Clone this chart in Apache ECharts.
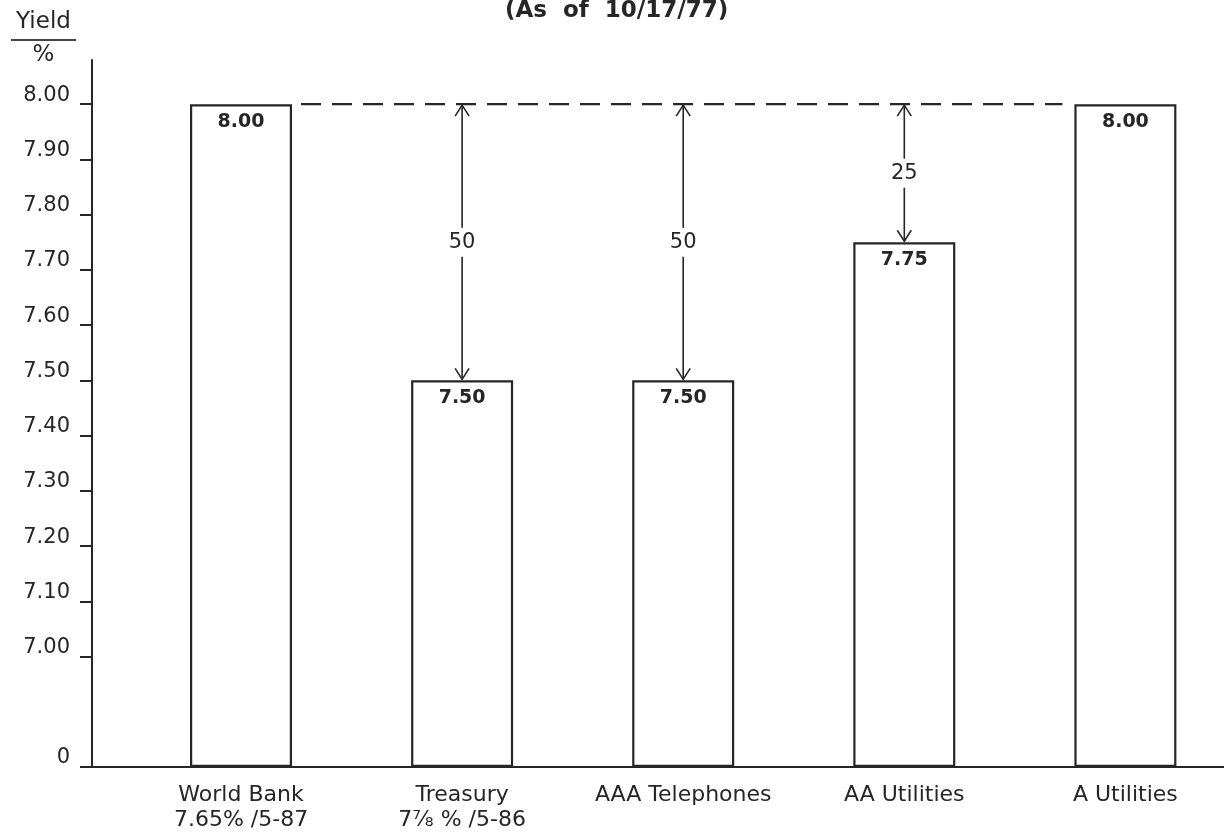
<!DOCTYPE html>
<html>
<head>
<meta charset="utf-8">
<script src="https://cdn.jsdelivr.net/npm/echarts@6/dist/echarts.min.js"></script>
<style>
  html, body { margin: 0; padding: 0; background: #ffffff; }
  #chart { width: 1224px; height: 836px; }
</style>
</head>
<body>
<div id="chart"></div>
<script>
// ---- data ----
const categories = ['World Bank\n7.65% /5-87', 'Treasury\n7\u215E % /5-86', 'AAA Telephones', 'AA Utilities', 'A Utilities'];
const yields = [8.00, 7.50, 7.50, 7.75, 8.00];
const benchmark = 8.00;
const spreadCategories = [1, 2, 3];
const tickValues = [0, 7.00, 7.10, 7.20, 7.30, 7.40, 7.50, 7.60, 7.70, 7.80, 7.90, 8.00];
const tickLabels = ['0', '7.00', '7.10', '7.20', '7.30', '7.40', '7.50', '7.60', '7.70', '7.80', '7.90', '8.00'];

// broken axis: 0 sits two steps below 7.00
function toAxis(v) {
  if (v === 0) return 0;
  return Math.round(((v - 7) * 10 + 2) * 1000) / 1000;
}
const tickAxis = tickValues.map(toAxis);

const FONT = 'DejaVu Sans';
const INK = '#262626';
const BAR_W = 102;

const barData = yields.map((v, i) => [i, toAxis(v)]);
const arrowData = spreadCategories.map(i => [i, toAxis(benchmark), toAxis(yields[i]), ((benchmark - yields[i]) * 100).toFixed(0)]);
const dashData = [[0, categories.length - 1, toAxis(benchmark)]];

const chart = echarts.init(document.getElementById('chart'), null, { renderer: 'canvas' });

chart.setOption({
  backgroundColor: '#ffffff',
  animation: false,
  title: [
    {
      text: '(As  of  10/17/77)',
      left: 500,
      top: -5,
      textStyle: { fontFamily: FONT, fontSize: 23, fontWeight: 'bold', color: INK }
    },
    {
      text: '{y|Yield}\n{l|}\n{p|%}',
      left: 6,
      top: 2,
      textStyle: {
        fontWeight: 'normal',
        rich: {
          y: { fontFamily: FONT, fontSize: 23, fontWeight: 'normal', color: INK, align: 'center', lineHeight: 30 },
          l: { width: 65, height: 2, backgroundColor: '#444', align: 'center', lineHeight: 6 },
          p: { fontFamily: FONT, fontSize: 23, fontWeight: 'normal', color: INK, align: 'center', lineHeight: 24 }
        }
      }
    }
  ],
  grid: { left: 92, right: 0, top: 60, bottom: 69, containLabel: false },
  xAxis: {
    type: 'value',
    min: -0.674,
    max: 4.446,
    splitLine: { show: false },
    axisTick: { show: false },
    axisLine: { show: true, onZero: false, lineStyle: { color: INK, width: 2 } },
    axisLabel: {
      customValues: categories.map((c, i) => i),
      formatter: (val) => categories[Math.round(val)],
      fontFamily: FONT,
      fontSize: 22,
      color: INK,
      lineHeight: 25,
      margin: 16,
      align: 'center'
    }
  },
  yAxis: {
    type: 'value',
    min: 0,
    max: 12.8,
    splitLine: { show: false },
    axisLine: { show: true, onZero: false, lineStyle: { color: INK, width: 2 } },
    axisTick: {
      show: true,
      customValues: tickAxis,
      length: 12,
      inside: false,
      lineStyle: { color: INK, width: 2 }
    },
    axisLabel: {
      customValues: tickAxis,
      formatter: (val) => {
        const k = tickAxis.findIndex(t => Math.abs(t - val) < 1e-6);
        return k >= 0 ? tickLabels[k] : '';
      },
      fontFamily: FONT,
      fontSize: 21,
      color: INK,
      margin: 22,
      verticalAlign: 'bottom',
      lineHeight: 18
    }
  },
  series: [
    {
      type: 'bar',
      data: barData,
      barWidth: BAR_W,
      itemStyle: { color: '#ffffff', borderColor: INK, borderWidth: 2.2 },
      label: {
        show: true,
        position: 'insideTop',
        distance: 8,
        fontFamily: FONT,
        fontWeight: 'bold',
        fontSize: 19,
        color: INK,
        formatter: (p) => yields[p.dataIndex].toFixed(2)
      },
      z: 2
    },
    {
      type: 'custom',
      data: dashData,
      z: 3,
      renderItem: function (params, api) {
        const a = api.coord([api.value(0), api.value(2)]);
        const b = api.coord([api.value(1), api.value(2)]);
        return {
          type: 'line',
          shape: { x1: a[0] + BAR_W / 2 + 9, y1: a[1], x2: b[0] - BAR_W / 2 - 12, y2: b[1] },
          style: { stroke: INK, lineWidth: 2.2, lineDash: [20, 11] }
        };
      }
    },
    {
      type: 'custom',
      data: arrowData,
      z: 4,
      renderItem: function (params, api) {
        const top = api.coord([api.value(0), api.value(1)]);
        const bot = api.coord([api.value(0), api.value(2)]);
        const x = top[0];
        const y1 = top[1] + 1;
        const y2 = bot[1] - 1;
        const hw = 7, hh = 11;
        return {
          type: 'group',
          children: [
            { type: 'line', shape: { x1: x, y1: y1, x2: x, y2: y2 }, style: { stroke: INK, lineWidth: 1.6 } },
            { type: 'polyline', shape: { points: [[x - hw, y1 + hh], [x, y1], [x + hw, y1 + hh]] }, style: { stroke: INK, lineWidth: 1.6, fill: null } },
            { type: 'polyline', shape: { points: [[x - hw, y2 - hh], [x, y2], [x + hw, y2 - hh]] }, style: { stroke: INK, lineWidth: 1.6, fill: null } },
            {
              type: 'text',
              style: {
                text: api.value(3) + '',
                x: x,
                y: (y1 + y2) / 2,
                align: 'center',
                verticalAlign: 'middle',
                fontFamily: FONT,
                fontSize: 21,
                fill: INK,
                backgroundColor: '#ffffff',
                padding: [4, 2, 4, 2]
              }
            }
          ]
        };
      }
    }
  ]
});
</script>
</body>
</html>
